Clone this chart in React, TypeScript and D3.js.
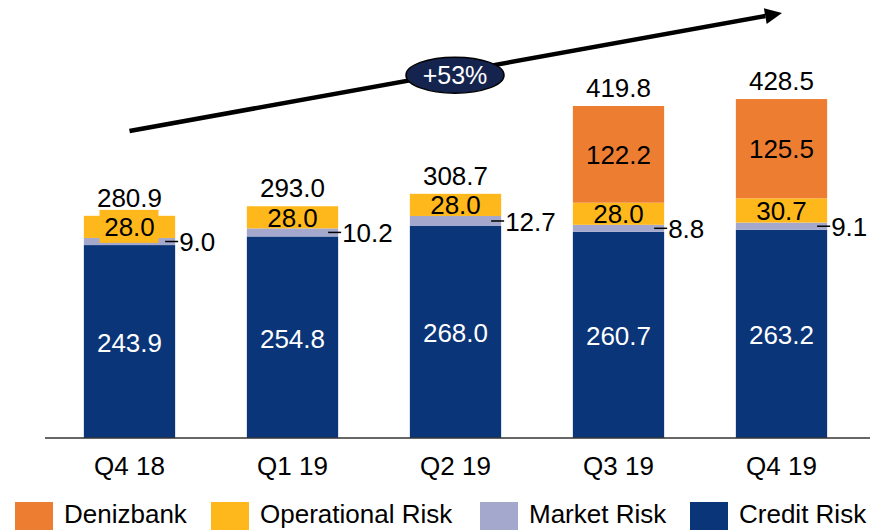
import React from 'react'
import * as d3 from 'd3'

const QUARTERS = ['Q4 18', 'Q1 19', 'Q2 19', 'Q3 19', 'Q4 19']
const CREDIT = [243.9, 254.8, 268.0, 260.7, 263.2]
const MARKET = [9.0, 10.2, 12.7, 8.8, 9.1]
const OPERATIONAL = [28.0, 28.0, 28.0, 28.0, 30.7]
const DENIZBANK = [0, 0, 0, 122.2, 125.5]
const TOTALS = [280.9, 293.0, 308.7, 419.8, 428.5]
const GROWTH = '+53%'

const LEGEND = [
  { name: 'Denizbank', color: '#ed7d31' },
  { name: 'Operational Risk', color: '#ffb81c' },
  { name: 'Market Risk', color: '#a3a8cc' },
  { name: 'Credit Risk', color: '#0a3578' },
]

const W = 870
const H = 530
const FONT = '"Liberation Sans", Arial, sans-serif'
const FS = 26

export default function App() {
  const x = d3.scaleBand().domain(QUARTERS).range([48, 863]).paddingInner(0.44).paddingOuter(0.22)
  const y = d3.scaleLinear().domain([0, 450]).range([438, 438 - 450 * 0.791])
  const bw = x.bandwidth()

  const keys = ['credit', 'market', 'operational', 'denizbank']
  const colors: Record<string, string> = {
    credit: '#0a3578',
    market: '#a3a8cc',
    operational: '#ffb81c',
    denizbank: '#ed7d31',
  }
  const rows = QUARTERS.map((q, i) => ({
    q,
    credit: CREDIT[i],
    market: MARKET[i],
    operational: OPERATIONAL[i],
    denizbank: DENIZBANK[i],
  }))
  const stacked = d3.stack<any>().keys(keys)(rows)

  // growth arrow
  const ax0 = x(QUARTERS[0])! + bw / 2
  const ay0 = 131
  const ax1 = 782
  const ay1 = 13
  const ang = Math.atan2(ay1 - ay0, ax1 - ax0)
  const hl = 17
  const hw = 8
  const bx = ax1 - hl * Math.cos(ang)
  const by = ay1 - hl * Math.sin(ang)
  const head = [
    [ax1, ay1],
    [bx + hw * Math.sin(ang), by - hw * Math.cos(ang)],
    [bx - hw * Math.sin(ang), by + hw * Math.cos(ang)],
  ]
  const ex = 455
  const ey = ay0 + (ex - ax0) * Math.tan(ang) + 3

  return (
    <svg width={W} height={H} style={{ position: 'absolute', left: 0, top: 0, background: '#fff' }} fontFamily={FONT}>
      {stacked.map((layer) => (
        <g key={layer.key}>
          {layer.map((d, i) =>
            d[1] - d[0] > 0 ? (
              <rect
                key={i}
                x={x(QUARTERS[i])}
                y={y(d[1])}
                width={bw}
                height={y(d[0]) - y(d[1])}
                fill={colors[layer.key]}
              />
            ) : null
          )}
        </g>
      ))}

      {/* axis line */}
      <line x1={45} x2={870} y1={y(0)} y2={y(0)} stroke="#333" strokeWidth={1.5} />

      {QUARTERS.map((q, i) => {
        const cx = x(q)! + bw / 2
        const right = x(q)! + bw
        const c1 = CREDIT[i]
        const m1 = c1 + MARKET[i]
        const o1 = m1 + OPERATIONAL[i]
        const d1 = o1 + DENIZBANK[i]
        const mY = y((c1 + m1) / 2)
        const oY = y((m1 + o1) / 2)
        return (
          <g key={q}>
            <text x={cx} y={y(c1 / 2)} dy="0.4em" textAnchor="middle" fill="#fff" fontSize={FS}>
              {CREDIT[i].toFixed(1)}
            </text>
            {i === 0 && <rect x={cx - 30} y={oY - 17} width={59} height={33} fill={colors.operational} />}
            <text x={cx} y={oY} dy="0.36em" textAnchor="middle" fill="#000" fontSize={FS}>
              {OPERATIONAL[i].toFixed(1)}
            </text>
            <line x1={right - 10} x2={right + 3} y1={mY} y2={mY} stroke="#000" strokeWidth={1.5} />
            <text x={right + 4} y={mY} dy="0.38em" fill="#000" fontSize={FS}>
              {MARKET[i].toFixed(1)}
            </text>
            {DENIZBANK[i] > 0 && (
              <text x={cx} y={y((o1 + d1) / 2)} dy="0.36em" textAnchor="middle" fill="#000" fontSize={FS}>
                {DENIZBANK[i].toFixed(1)}
              </text>
            )}
            <text x={cx} y={y(TOTALS[i]) - 9} textAnchor="middle" fill="#000" fontSize={FS}>
              {TOTALS[i].toFixed(1)}
            </text>
            <text x={cx} y={475} textAnchor="middle" fill="#000" fontSize={FS}>
              {q}
            </text>
          </g>
        )
      })}

      {/* growth arrow */}
      <line x1={ax0} y1={ay0} x2={bx} y2={by} stroke="#000" strokeWidth={4.5} />
      <polygon points={head.map((p) => p.join(',')).join(' ')} fill="#000" />
      <ellipse cx={ex} cy={ey} rx={49} ry={18} fill="#15244f" stroke="#000" strokeWidth={1.5} />
      <text x={ex} y={ey} dy="0.36em" textAnchor="middle" fill="#fff" fontSize={25}>
        {GROWTH}
      </text>

      {/* legend */}
      {LEGEND.map((l, i) => {
        const lx = [15, 211, 480, 690][i]
        return (
          <g key={l.name}>
            <rect x={lx} y={502} width={38} height={28} fill={l.color} />
            <text x={lx + 49} y={523} fill="#000" fontSize={FS}>
              {l.name}
            </text>
          </g>
        )
      })}
    </svg>
  )
}
